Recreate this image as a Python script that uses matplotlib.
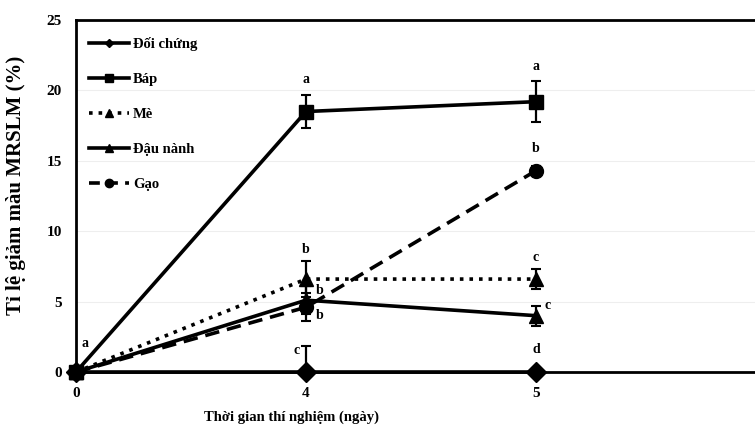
import matplotlib
matplotlib.use("Agg")
import matplotlib.pyplot as plt
from matplotlib.lines import Line2D

plt.rcParams['font.family'] = ['Liberation Serif', 'DejaVu Serif']
plt.rcParams['font.weight'] = 'bold'

# Sampling days (categorical axis)
days = ["0", "4", "5"]

series_names = ["Đối chứng", "Báp", "Mè", "Đậu nành", "Gạo"]
doi_chung = [0.0, 0.0, 0.0]
bap = [0.0, 18.5, 19.2]
me = [0.0, 6.6, 6.6]
dau_nanh = [0.0, 5.1, 4.0]
gao = [0.0, 4.6, 14.3]

# Error bar half-widths (lower, upper)
doi_chung_err = ([0.0, 0.0, 0.0], [0.0, 1.85, 0.0])
bap_err = ([0.0, 1.2, 1.45], [0.0, 1.2, 1.45])
me_err = ([0.0, 1.25, 0.7], [0.0, 1.25, 0.7])
dau_nanh_err = ([0.0, 1.0, 0.7], [0.0, 1.0, 0.7])
gao_err = ([0.0, 1.0, 0.3], [0.0, 1.0, 0.3])

# Significance letters: (category position, y, letter)
letters = [
    (0.04, 2.0, "a"),
    (1, 20.8, "a"), (2, 21.7, "a"),
    (2, 15.9, "b"),
    (1, 8.7, "b"), (1.06, 5.8, "b"), (1.06, 4.0, "b"),
    (0.96, 1.5, "c"), (2, 1.6, "d"),
    (2, 8.1, "c"), (2.05, 4.75, "c"),
]

x = list(range(len(days)))

fig = plt.figure(figsize=(7.55, 4.29), dpi=100)
ax = fig.add_axes([76 / 755, (429 - 372) / 429, 690 / 755, 352 / 429])

styles = [
    (doi_chung, doi_chung_err, dict(ls='-', marker='D', ms=10)),
    (bap, bap_err, dict(ls='-', marker='s', ms=10)),
    (me, me_err, dict(ls=':', marker='^', ms=10)),
    (dau_nanh, dau_nanh_err, dict(ls='-', marker='^', ms=10)),
    (gao, gao_err, dict(ls=(0, (4, 2.2)), marker='o', ms=10)),
]

for vals, err, st in styles:
    ax.errorbar(x, vals, yerr=err, color='black', lw=2.6, capsize=3.5,
                capthick=1.5, elinewidth=1.6, clip_on=False, zorder=3,
                dash_capstyle='butt', **st)

for xi, yi, t in letters:
    ax.text(xi, yi, t, ha='center', va='center', fontsize=10, fontweight='bold')

ax.set_xlim(0, 3)
ax.set_ylim(0, 25)
ax.set_xticks(x)
ax.set_xticklabels(days)
ax.set_yticks(range(0, 26, 5))
ax.tick_params(axis='both', length=0, labelsize=11)
ax.tick_params(axis='x', pad=11)
ax.tick_params(axis='y', pad=10)
for lbl in ax.get_xticklabels() + ax.get_yticklabels():
    lbl.set_fontweight('bold')

ax.yaxis.grid(True, color='#eeeeee', lw=0.8)
ax.set_axisbelow(True)
for sp in ax.spines.values():
    sp.set_linewidth(2)
    sp.set_color('black')

ax.set_xlabel("Thời gian thí nghiệm (ngày)", fontsize=10.5, fontweight='bold')
ax.xaxis.set_label_coords(0.313, -0.108)
ax.set_ylabel("Tỉ lệ giảm màu MRSLM (%)", fontsize=15, fontweight='bold')
ax.yaxis.set_label_coords(-0.072, 0.531)

handles = [
    Line2D([], [], color='black', lw=2.6, ls='-', marker='D', ms=4),
    Line2D([], [], color='black', lw=2.6, ls='-', marker='s', ms=6),
    Line2D([], [], color='black', lw=2.6, ls=':', marker='^', ms=6),
    Line2D([], [], color='black', lw=2.6, ls='-', marker='^', ms=6),
    Line2D([], [], color='black', lw=2.6, ls=(0, (3, 2)), marker='o', ms=6),
]
leg = ax.legend(handles, series_names, loc='upper left', frameon=False,
                prop={'weight': 'bold', 'size': 10.5}, handlelength=2.75,
                handletextpad=0.25, labelspacing=1.5,
                bbox_to_anchor=(0.0, 0.99))

fig.savefig("out.png", dpi=100)
